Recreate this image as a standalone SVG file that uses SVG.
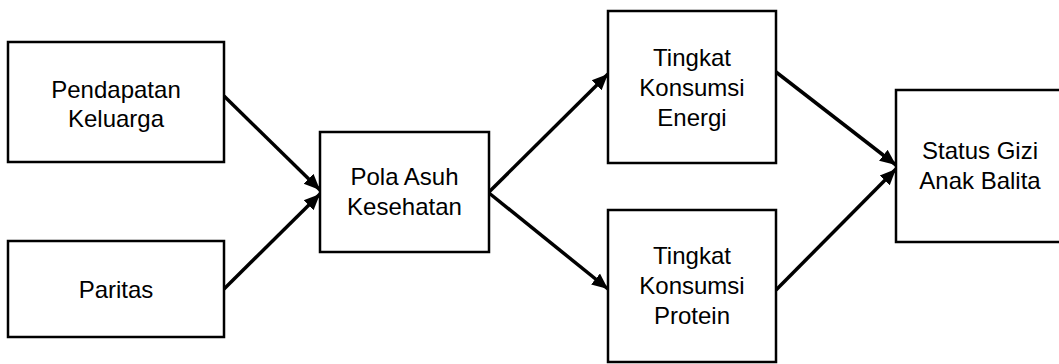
<svg xmlns="http://www.w3.org/2000/svg" width="1059" height="364" viewBox="0 0 1059 364">
<style>
.box{fill:#fff;stroke:#000;stroke-width:2.5}
.t{font-family:"Liberation Sans",Arial,sans-serif;font-size:24px;fill:#000;text-anchor:middle}
.c{stroke:#000;stroke-width:3.5;fill:none;marker-end:url(#ah)}
</style>
<defs>
<marker id="ah" markerUnits="userSpaceOnUse" markerWidth="18" markerHeight="16" refX="16" refY="7" orient="auto" viewBox="0 0 18 14">
<path d="M0,0 L16,7 L0,14 z" fill="#000"/>
</marker>
</defs>
<rect width="1059" height="364" fill="#fff"/>
<g id="connectors">
<line class="c" x1="224" y1="96" x2="320" y2="190"/>
<line class="c" x1="224" y1="289" x2="320" y2="194"/>
<line class="c" x1="489" y1="192" x2="608" y2="74"/>
<line class="c" x1="489" y1="193" x2="608" y2="289"/>
<line class="c" x1="776" y1="72" x2="896" y2="165"/>
<line class="c" x1="776" y1="290" x2="896" y2="169"/>
</g>
<g id="n1"><rect class="box" x="8" y="42" width="216" height="120"/>
<text class="t" x="116" y="97.5">Pendapatan</text><text class="t" x="116" y="126.5">Keluarga</text></g>
<g id="n2"><rect class="box" x="8" y="241" width="216" height="96"/>
<text class="t" x="116" y="298">Paritas</text></g>
<g id="n3"><rect class="box" x="320" y="132" width="169" height="120"/>
<text class="t" x="404.5" y="185">Pola Asuh</text><text class="t" x="404.5" y="215">Kesehatan</text></g>
<g id="n4"><rect class="box" x="608" y="11" width="168" height="152"/>
<text class="t" x="692" y="66">Tingkat</text><text class="t" x="692" y="96">Konsumsi</text><text class="t" x="692" y="125.5">Energi</text></g>
<g id="n5"><rect class="box" x="608" y="210" width="168" height="152"/>
<text class="t" x="692" y="264">Tingkat</text><text class="t" x="692" y="294">Konsumsi</text><text class="t" x="692" y="323.5">Protein</text></g>
<g id="n6"><rect class="box" x="896" y="90" width="168" height="152"/>
<text class="t" x="980" y="159">Status Gizi</text><text class="t" x="980" y="189">Anak Balita</text></g>
</svg>
